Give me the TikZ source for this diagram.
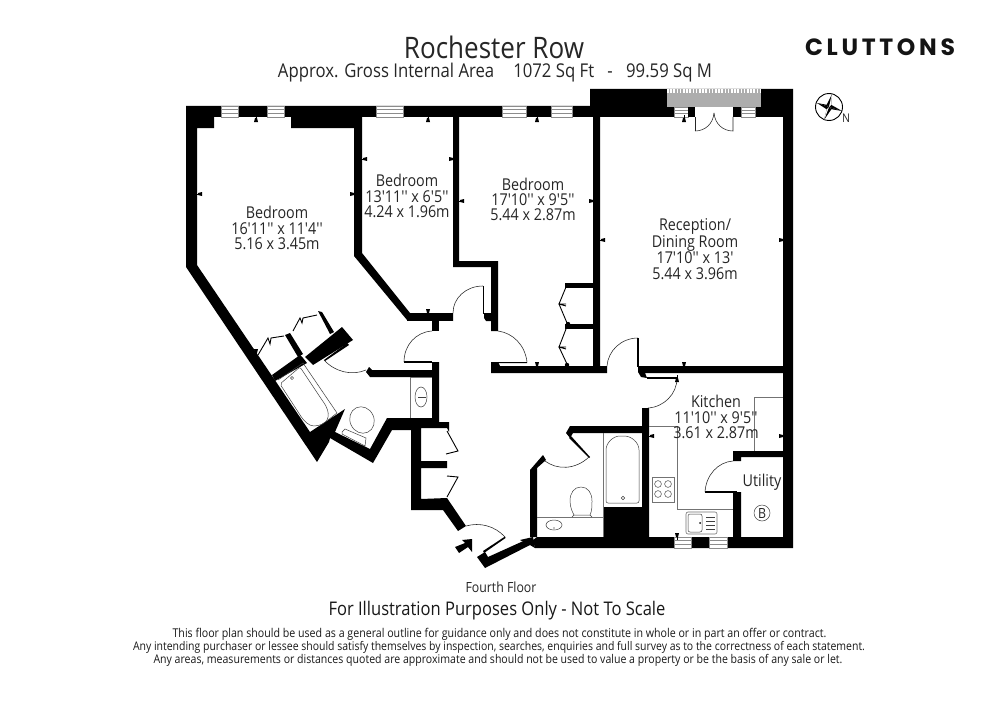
\documentclass[tikz,border=0pt]{standalone}
\usepackage{fontspec}
\newfontfamily\rfont[FakeStretch=0.88]{Open Sans}
\newfontfamily\logofont{Poppins}
\tikzset{
 wall/.style={fill=black,draw=none},
 thin line/.style={draw=black!75,line width=0.5pt},
 gray line/.style={draw=black!55,line width=0.6pt},
 door/.style={draw=black!85,line width=0.55pt},
 windowbox/.style={fill=white,draw=black!45,line width=0.4pt},
 room/.style={align=center,font=\rfont\fontsize{16.3}{15.4}\selectfont,text=black!85,inner sep=0pt},
 legal/.style={font=\rfont\fontsize{11.9}{13}\selectfont,text=black!90,inner sep=0pt}
}
\newcommand\tkU[2]{\fill (#1-2,#2+4)--(#1+2,#2+4)--(#1+1,#2)--(#1-1,#2)--cycle;\fill (#1-0.4,#2-3) rectangle (#1+0.4,#2);}
\newcommand\tkD[2]{\fill (#1-2,#2-4)--(#1+2,#2-4)--(#1+1,#2)--(#1-1,#2)--cycle;\fill (#1-0.4,#2+3) rectangle (#1+0.4,#2);}
\newcommand\tkL[2]{\fill (#1+4,#2-2)--(#1+4,#2+2)--(#1,#2+1)--(#1,#2-1)--cycle;\fill (#1-3,#2-0.4) rectangle (#1,#2+0.4);}
\newcommand\tkR[2]{\fill (#1-4,#2-2)--(#1-4,#2+2)--(#1,#2+1)--(#1,#2-1)--cycle;\fill (#1+3,#2-0.4) rectangle (#1,#2+0.4);}
\newcommand\winH[4]{\fill[white] (#1,#3) rectangle (#2,#4);\draw[windowbox] (#1,#3) rectangle (#2,#4);\draw[black!45,line width=0.4pt] (#1,#3+3.5)--(#2,#3+3.5) (#1,#4-3.5)--(#2,#4-3.5);}
\begin{document}
\begin{tikzpicture}[x=1pt,y=-1pt,line join=miter]
\useasboundingbox (0,0) rectangle (1000,706);
\fill[white] (0,0) rectangle (1000,706);
% ---- walls
\fill[wall] (186,106)--(590,106)--(590,89)--(793,89)--(793,548)--(535,548)--(533,540)--(537,537)--(642,537)--(642,433)--(573,433)--(570,438)--(566,433)--(570,426)--(642,426)--(642,408)--(649,408)--(649,537)--(733,537)--(733,492)--(737,492)--(741,492)--(741,537)--(783,537)--(783,457)--(741,457)--(741,461)--(733,461)--(733,451)--(783,451)--(783,373)--(645,373)--(647,378)--(641,377)--(638,372)--(638,366)--(783,366)--(783,117)--(600,117)--(600,366)--(607,366)--(607,373)--(491,373)--(491,362)--(498,362)--(500,366)--(593,366)--(593,117)--(459,117)--(459,261)--(498,261)--(498,331)--(491,331)--(491,267)--(453,267)--(453,117)--(362,117)--(362,253)--(410,313)--(453,313)--(453,321)--(407,320)--(354,256)--(354,128)--(291,128)--(291,117)--(214,117)--(214,128)--(197,128)--(197,265)--(310,432)--(345,409)--(335,432)--(370,449)--(387,418)--(432,418)--(432,362)--(439,362)--(439,422)--(449,422)--(449,432)--(447,428)--(421,428)--(421,461)--(447,461)--(447,468)--(421,468)--(421,499)--(447,498)--(466,526)--(458,531)--(443,510)--(411,510)--(411,430)--(392,430)--(373,463)--(330,438)--(329,442)--(317,462)--(186,267)--cycle;
% small wall pieces
\fill[wall] (432,320) rectangle (439,331);
\fill[wall] (484,313)--(491,313)--(491,321)--(486,321)--(484,318)--cycle;
\fill[wall] (369,367)--(372,370)--(432,370)--(432,377)--(370,377)--(366,372)--cycle;
\fill[wall] (305,357)--(342,327)--(353,340)--(313,365)--cycle;
\fill[wall] (272,375)--(300,355)--(303,358)--(307,363)--(275,381)--cycle;
\fill[wall] (285,335)--(290,333)--(303,354)--(298,357)--cycle;
\fill[wall] (318,311)--(322,312)--(334,332)--(330,334)--cycle;
% bath/hall south
\fill[wall] (530,470)--(543,455)--(546,460)--(537,468)--(537,537)--(530,537)--cycle;
\fill[wall] (603,507) rectangle (649,537);
\fill[wall] (477,557)--(485,552)--(488,557)--(530,538)--(530,545)--(485,568)--cycle;
\fill[wall] (520,540)--(533,537)--(535,548)--(530,545)--cycle;
\fill[wall] (569,438)--(571,436)--(590,457)--(589,458)--cycle;
\fill[white] (439,313) rectangle (453,321);
\fill[wall] (407,313) rectangle (453,321);
% cupboards bed3
\fill[wall] (565,283) rectangle (593,288);
\fill[wall] (565,324) rectangle (593,329);
\fill[wall] (491,362)--(527,362)--(527,363)--(495,363)--(495,366)--(491,366)--cycle;
\fill[wall] (568,324) circle (2.2);
\fill[wall] (567,365) circle (2.2);
% entry arrow
\fill (455,547)--(459,553)--(468,547)--(472,552)--(472,539)--(462,540)--(465,543)--cycle;
% ---- windows
\winH{221}{238}{106}{117}
\winH{267}{284}{106}{117}
\winH{376}{403}{106}{117}
\winH{502}{526}{106}{117}
\winH{551}{572}{106}{117}
\winH{674}{688}{107}{117}
\winH{741}{755}{107}{117}
\winH{674}{691}{537}{548}
\winH{709}{727}{537}{548}
% balcony
\fill[black!32] (667,89) rectangle (761,107);
\draw[white,line width=3.5pt,dash pattern=on 1.5pt off 1.7pt] (667,91)--(761,91);
% french door opening
\fill[white] (695,107) rectangle (733,117);
\fill[wall] (688,107) rectangle (695,117);
\fill[wall] (733,107) rectangle (741,117);
\draw[door] (695,117)--(695,131);
\draw[door] (695,131) .. controls (705,131) and (713,124) .. (714,113);
\draw[door] (733,117)--(733,131) .. controls (723,131) and (715,124) .. (714,113);
% ---- doors
\fill[wall] (404,360.8) rectangle (432,362.5);
\draw[door] (404,362) .. controls (404,345) and (416,332) .. (432,331);
\draw[door] (453,313) .. controls (453,298) and (466,286) .. (483,286);
\fill[wall] (482.6,286) rectangle (484,314);
\draw[door] (498,331) .. controls (513,333) and (525,345) .. (527,362);
\draw[door] (607,366) .. controls (608,351) and (621,338) .. (638,338);
\fill[wall] (637.4,338) rectangle (639,367);
\fill[wall] (647,376.5) rectangle (678,378.5);
\draw[door] (677,378) .. controls (677,394) and (664,407) .. (648,408);
\fill[wall] (705,491) rectangle (737,493);
\draw[door] (705,492) .. controls (706,475) and (718,462) .. (733,461);
\draw[door] (466,526) .. controls (480,522) and (495,526) .. (505,537);
\fill[wall] (483,551)--(505,536.5)--(505.5,538)--(484,553)--cycle;
\draw[door] (545,461) .. controls (557,470) and (575,470) .. (589,457);
\draw[door] (324,360) .. controls (335,372) and (352,376) .. (366,370);
\fill[wall] (324,360)--(347,343)--(349,345)--(325,361)--cycle;
% bedroom 1 wardrobe doors
\draw[black,line width=0.9pt] (258,355)--(268,338)--(270,344)--(271,338)--(284,336);
\draw[black,line width=0.9pt] (293,331)--(300,318)--(302,323)--(303,318)--(317,315);
% bedroom 3 wardrobe doors
\draw[black,line width=0.9pt] (566,287)--(559,304)--(566,306) (559,304)--(566,304)--(559,304)--(567,323);
\draw[black,line width=0.9pt] (566,329)--(559,347)--(566,349) (559,347)--(566,347)--(559,347)--(567,364);
% hall cupboards doors
\draw[black,line width=0.9pt] (447,431)--(458,451)--(446,454);
\draw[black,line width=0.9pt] (447,476)--(458,477)--(447,497);
% ---- fixtures
\draw[gray line] (410,377)--(410,418) (432,377)--(410,377);
\draw[thin line] (421,397) ellipse (6 and 10);
\draw[thin line] (418,397)--(426,397);
\draw[gray line] (649,426)--(677,426)--(677,509)--(733,509);
\draw[gray line] (783,397)--(754,397)--(754,451);
\draw[gray line] (652,477) rectangle (674,502);
\foreach \cx/\cy in {658/484,668/484,658/494,668/494}{\draw[thin line] (\cx,\cy) circle (3.4);}
\draw[gray line,rounded corners=2] (686,512) rectangle (717,534);
\draw[thin line,rounded corners=2] (688,514) rectangle (702,532);
\fill (700,523) circle (1);
\foreach \sy in {517,521,525,529}{\draw[thin line] (706,\sy)--(715,\sy);}
\draw[thin line] (762,513) circle (8);
\node[inner sep=0pt,font=\rfont\fontsize{14}{14}\selectfont,text=black!85] (boiler) at (762,513) {B};
% bath east
\draw[gray line] (603,433)--(603,537);
\draw[thin line,rounded corners=2] (606,503)--(606,452) .. controls (606,443) and (613,436) .. (622,436) .. controls (632,436) and (639,443) .. (639,452)--(639,503)--cycle;
\draw[thin line] (623,498) circle (1.8);
\draw[gray line] (537,517)--(603,517);
\draw[thin line] (581,487) .. controls (574,487) and (570,493) .. (570,501) .. controls (570,508) and (573,513) .. (574,515)--(590,515) .. controls (592,511) and (592,506) .. (592,501) .. controls (592,493) and (588,487) .. (581,487);
\draw[thin line] (574,515)--(572,517) (590,515)--(592,517);
\draw[thin line] (554,525) ellipse (8 and 5);
\fill (554,528) circle (0.7);
% bath west
\draw[thin line] (278,380)--(303,363)--(337,413)--(328,420);
\draw[thin line,rounded corners=2] (280,384)--(300,367)--(322,400) .. controls (332,414) and (328,422) .. (320,425) .. controls (312,427) and (308,425) .. (302,418)--cycle;
\draw[thin line] (292,378) circle (1.6);
\draw[thin line,rotate around={25:(362,420)}] (362,420) ellipse (12 and 13.5);
\draw[thin line,fill=white] (342,432)--(345,429)--(366,438)--(365,446)--(342,434)--cycle;
% ---- ticks
\tkU{256}{118} \tkU{428}{118} \tkU{537}{118} \tkU{684}{118}
\tkD{256}{353} \tkD{428}{313} \tkD{537}{366} \tkD{684}{366} \tkU{677}{378} \tkD{677}{537}
\tkL{198}{194} \tkR{354}{194} \tkL{363}{159} \tkR{453}{159} \tkL{460}{201} \tkR{593}{201}
\tkL{601}{240} \tkR{783}{240} \tkL{650}{436} \tkR{783}{436}
% ---- compass
\begin{scope}[shift={(829,107)}]
\draw[black,line width=0.9pt] (0,0) circle (13.5);
\fill (0,0)--(3,-13)--(2.2,-2.2)--cycle;
\fill (0,0)--(13,4)--(2.2,2.2)--cycle;
\fill (0,0)--(-5,13)--(-2.2,2.2)--cycle;
\fill (0,0)--(-12,-4)--(-2.2,-2.2)--cycle;
\fill (0,0)--(3,-13)--(-2.4,-2.2)--cycle;
\fill (0,0)--(13,4)--(1.8,-2.4)--cycle;
\fill (0,0)--(-5,13)--(2.4,2.2)--cycle;
\fill (0,0)--(-12,-4)--(-2.2,2.4)--cycle;
\fill[white] (0,0)--(3,-13)--(2.2,-2.2)--cycle;
\fill[white] (0,0)--(-5,13)--(-2.2,2.2)--cycle;
\end{scope}
\node[inner sep=0pt,font=\rfont\fontsize{12}{12}\selectfont,text=black!85] (north) at (846,118) {N};
% ---- texts
\node[inner sep=0pt,font=\rfont\fontsize{29.6}{30}\selectfont,text=black!85] (title) at (494,47) {Rochester Row};
\node[inner sep=0pt,font=\rfont\fontsize{19}{20}\selectfont,text=black!85] (sub) at (495,73) {Approx. Gross Internal Area\hspace{1em}1072 Sq Ft\hspace{0.7em}-\hspace{0.7em}99.59 Sq M};
\node[inner sep=0pt,font=\logofont\bfseries\fontsize{23.5}{24}\selectfont,text=black!92] (logo) at (880,47) {C\hspace{3.7pt}L\hspace{3.7pt}U\hspace{3.7pt}T\hspace{3.7pt}T\hspace{3.7pt}O\hspace{3.7pt}N\hspace{3.7pt}S};
\node[room] (r1) at (277,228) {Bedroom\\16'11'' x 11'4''\\5.16 x 3.45m};
\node[room] (r2) at (407,196) {Bedroom\\13'11'' x 6'5''\\4.24 x 1.96m};
\node[room] (r3) at (533,199.5) {Bedroom\\17'10'' x 9'5''\\5.44 x 2.87m};
\node[room] (r4) at (695,249) {Reception/\\Dining Room\\17'10'' x 13'\\5.44 x 3.96m};
\node[room] (r5) at (716,417) {Kitchen\\11'10'' x 9'5''\\3.61 x 2.87m};
\node[room] (r6) at (762,482) {Utility};
\node[inner sep=0pt,font=\rfont\fontsize{14}{14}\selectfont,text=black!85] (floor) at (501,587) {Fourth Floor};
\node[inner sep=0pt,font=\rfont\fontsize{18.8}{19}\selectfont,text=black!90] (note) at (497,611) {For Illustration Purposes Only - Not To Scale};
\node[legal,font=\rfont\fontsize{12.1}{13}\selectfont] (l1) at (499.5,634) {This floor plan should be used as a general outline for guidance only and does not constitute in whole or in part an offer or contract.};
\node[legal] (l2) at (499,647) {Any intending purchaser or lessee should satisfy themselves by inspection, searches, enquiries and full survey as to the correctness of each statement.};
\node[legal,font=\rfont\fontsize{12}{13}\selectfont] (l3) at (498,660) {Any areas, measurements or distances quoted are approximate and should not be used to value a property or be the basis of any sale or let.};
\end{tikzpicture}
\end{document}
